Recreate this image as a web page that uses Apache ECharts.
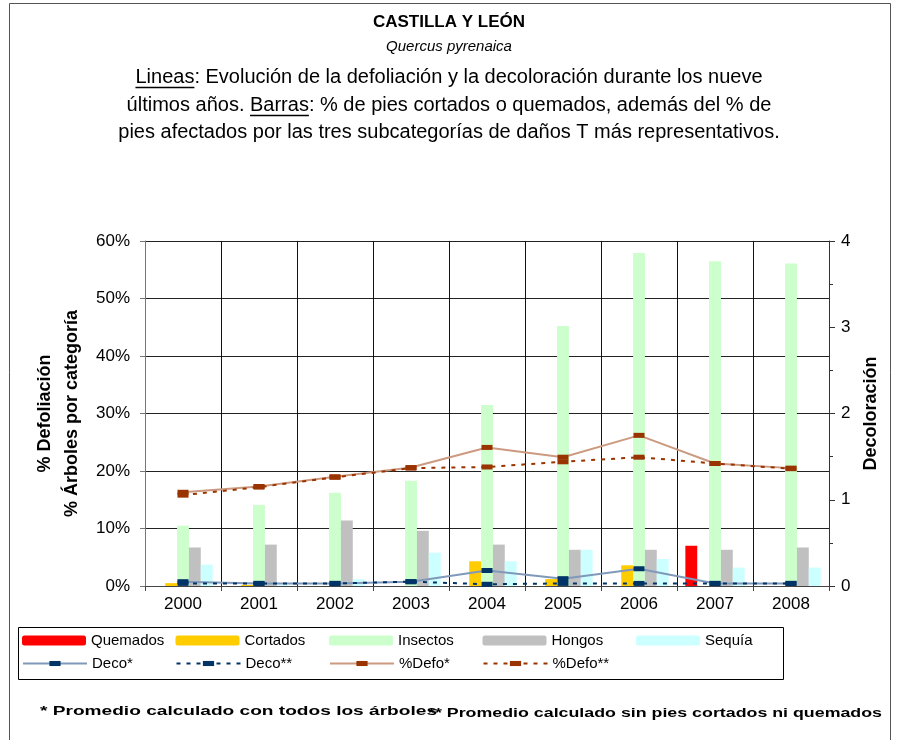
<!DOCTYPE html>
<html><head><meta charset="utf-8">
<script src="https://cdn.jsdelivr.net/npm/echarts@6/dist/echarts.min.js"></script>
<style>html,body{margin:0;padding:0;background:#fff}#c{width:897px;height:740px}</style>
</head><body><div id="c"></div>
<script>
// ---- data ----
const years = ['2000','2001','2002','2003','2004','2005','2006','2007','2008'];
const quemados = [0, 0, 0, 0, 0, 0, 0, 7.0, 0];
const cortados = [0.5, 0.2, 0, 0, 4.3, 1.2, 3.6, 0, 0];
const insectos = [10.5, 14.1, 16.2, 18.3, 31.5, 45.2, 57.9, 56.5, 56.1];
const hongos   = [6.7, 7.2, 11.4, 9.6, 7.2, 6.3, 6.3, 6.3, 6.7];
const sequia   = [3.7, 0.2, 1.2, 5.8, 4.3, 6.3, 4.7, 3.2, 3.2];
const defo1 = [16.3, 17.3, 19.0, 20.6, 24.1, 22.4, 26.2, 21.3, 20.5];
const defo2 = [15.8, 17.2, 18.9, 20.5, 20.7, 21.6, 22.4, 21.3, 20.4];
const deco1 = [0.05, 0.03, 0.03, 0.05, 0.18, 0.085, 0.20, 0.03, 0.03];
const deco2 = [0.03, 0.03, 0.03, 0.05, 0.02, 0.03, 0.03, 0.03, 0.03];
const leftTicks = [0, 10, 20, 30, 40, 50, 60];
const rightTicks = [0, 1, 2, 3, 4];
const barNames = ['Quemados', 'Cortados', 'Insectos', 'Hongos', 'Sequía'];
const lineNames = ['Deco*', 'Deco**', '%Defo*', '%Defo**'];

const FF = '"Liberation Sans", Arial, sans-serif';
const note1 = '* Promedio calculado con todos los árboles';
const note2 = '** Promedio calculado sin pies cortados ni quemados';
const l1 = 'Lineas: Evolución de la defoliación y la decoloración durante los nueve';
const l2 = 'últimos años. Barras: % de pies cortados o quemados, además del % de';
const l3 = 'pies afectados por las tres subcategorías de daños T más representativos.';

// measuring helper
const mc = document.createElement('canvas').getContext('2d');
function tw(t, font){ mc.font = font; return mc.measureText(t).width; }

const noteFont = 'bold 13px ' + FF;
const s1 = 397 / tw(note1, noteFont);
const s2 = 454 / tw(note2, noteFont);

const f20 = '20px ' + FF;
const W1 = tw(l1, f20), W2 = tw(l2, f20);
const u1x = 449 - W1 / 2, u1w = tw('Lineas', f20);
const u2x = 449 - W2 / 2 + tw('últimos años. ', f20), u2w = tw('Barras', f20);

const chart = echarts.init(document.getElementById('c'), null, {renderer: 'canvas'});

const barBase = {type: 'bar', barGap: '0%', barCategoryGap: '22%', yAxisIndex: 0};
// wide flat marker inside a square box (keeps the same look in the legend)
const mkSym = 'path://M0,-3M0,8M0,0H11V5H0Z';
const legText = {fontSize: 15, color: '#000', fontFamily: FF};

const legends = [];
barNames.forEach((n, i) => legends.push({
  data: [n], left: 22 + i * 153.5, top: 633, itemWidth: 64, itemHeight: 10, padding: 0,
  selectedMode: false, textStyle: legText
}));
lineNames.forEach((n, i) => legends.push({
  data: [n], left: 22 + i * 153.5, top: 656, itemWidth: 64, itemHeight: 14, padding: 0,
  selectedMode: false, textStyle: legText
}));

const option = {
  backgroundColor: '#fff',
  animation: false,
  textStyle: {fontFamily: FF},
  grid: {left: 145, right: 68, top: 241, bottom: 154},
  legend: legends,
  xAxis: {
    type: 'category', data: years, boundaryGap: true,
    axisLine: {lineStyle: {color: '#444', width: 1}},
    axisTick: {show: true, length: 5, lineStyle: {color: '#444'}},
    axisLabel: {fontSize: 17, color: '#000', margin: 10},
    splitLine: {show: true, lineStyle: {color: '#111', width: 1}}
  },
  yAxis: [
    {
      type: 'value', min: leftTicks[0], max: leftTicks[leftTicks.length - 1], interval: 10,
      axisLabel: {formatter: '{value}%', fontSize: 17, color: '#000', margin: 15},
      axisLine: {show: true, lineStyle: {color: '#777'}},
      axisTick: {show: true, length: 5, lineStyle: {color: '#777'}},
      splitLine: {show: true, lineStyle: {color: '#222'}},
      name: '% Defoliación\n% Árboles por categoría',
      nameLocation: 'middle', nameRotate: 90, nameGap: 58,
      nameTextStyle: {fontWeight: 'bold', fontSize: 18, lineHeight: 27, color: '#000'}
    },
    {
      type: 'value', position: 'right', min: rightTicks[0], max: rightTicks[rightTicks.length - 1], interval: 1,
      axisLabel: {fontSize: 17, color: '#000', margin: 12},
      axisLine: {show: true, lineStyle: {color: '#333'}},
      axisTick: {show: true, length: 6, lineStyle: {color: '#333'}},
      minorTick: {show: true, splitNumber: 2, length: 4, lineStyle: {color: '#333'}},
      splitLine: {show: false},
      name: 'Decoloración', nameLocation: 'middle', nameRotate: 90, nameGap: 33,
      nameTextStyle: {fontWeight: 'bold', fontSize: 18, color: '#000'}
    }
  ],
  series: [
    Object.assign({}, barBase, {name: barNames[0], data: quemados, itemStyle: {color: '#FF0000'}}),
    Object.assign({}, barBase, {name: barNames[1], data: cortados, itemStyle: {color: '#FFCC00'}}),
    Object.assign({}, barBase, {name: barNames[2], data: insectos, itemStyle: {color: '#CCFFCC'}}),
    Object.assign({}, barBase, {name: barNames[3], data: hongos, itemStyle: {color: '#C0C0C0'}}),
    Object.assign({}, barBase, {name: barNames[4], data: sequia, itemStyle: {color: '#CCFFFF'}}),
    {
      name: lineNames[0], type: 'line', yAxisIndex: 1, data: deco1, z: 5,
      symbol: mkSym, symbolSize: 11,
      lineStyle: {color: '#8099BA', width: 2}, itemStyle: {color: '#003366'}
    },
    {
      name: lineNames[1], type: 'line', yAxisIndex: 1, data: deco2, z: 5,
      symbol: mkSym, symbolSize: 11,
      lineStyle: {color: '#003366', width: 2, type: [4, 6]}, itemStyle: {color: '#003366'}
    },
    {
      name: lineNames[2], type: 'line', yAxisIndex: 0, data: defo1, z: 5,
      symbol: mkSym, symbolSize: 11,
      lineStyle: {color: '#CC9A80', width: 2}, itemStyle: {color: '#993300'}
    },
    {
      name: lineNames[3], type: 'line', yAxisIndex: 0, data: defo2, z: 5,
      symbol: mkSym, symbolSize: 11,
      lineStyle: {color: '#993300', width: 2, type: [4, 6]}, itemStyle: {color: '#993300'}
    }
  ],
  graphic: [
    {type: 'rect', silent: true, shape: {x: 9.5, y: 3.5, width: 881, height: 760},
      style: {fill: 'none', stroke: '#555', lineWidth: 1}, z: -1},
    {type: 'rect', silent: true, shape: {x: 18.5, y: 627.5, width: 765, height: 52},
      style: {fill: 'none', stroke: '#000', lineWidth: 1}},
    {type: 'text', silent: true, style: {text: 'CASTILLA Y LEÓN', x: 449, y: 22, align: 'center', verticalAlign: 'middle',
      font: 'bold 17px ' + FF, fill: '#000'}},
    {type: 'text', silent: true, style: {text: 'Quercus pyrenaica', x: 449, y: 47, align: 'center', verticalAlign: 'middle',
      font: 'italic 15px ' + FF, fill: '#000'}},
    {type: 'text', silent: true, style: {text: l1, x: 449, y: 77, align: 'center', verticalAlign: 'middle', font: f20, fill: '#000'}},
    {type: 'text', silent: true, style: {text: l2, x: 449, y: 105, align: 'center', verticalAlign: 'middle', font: f20, fill: '#000'}},
    {type: 'text', silent: true, style: {text: l3, x: 449, y: 132, align: 'center', verticalAlign: 'middle', font: f20, fill: '#000'}},
    {type: 'line', silent: true, shape: {x1: u1x, y1: 87.5, x2: u1x + u1w, y2: 87.5}, style: {stroke: '#000', lineWidth: 1.5}},
    {type: 'line', silent: true, shape: {x1: u2x, y1: 115.5, x2: u2x + u2w, y2: 115.5}, style: {stroke: '#000', lineWidth: 1.5}},
    {type: 'text', silent: true, x: 40, y: 711, scaleX: s1,
      style: {text: note1, x: 0, y: 0, align: 'left', verticalAlign: 'middle', font: noteFont, fill: '#000'}},
    {type: 'text', silent: true, x: 428, y: 713, scaleX: s2,
      style: {text: note2, x: 0, y: 0, align: 'left', verticalAlign: 'middle', font: noteFont, fill: '#000'}}
  ]
};
chart.setOption(option);
</script>
</body></html>
